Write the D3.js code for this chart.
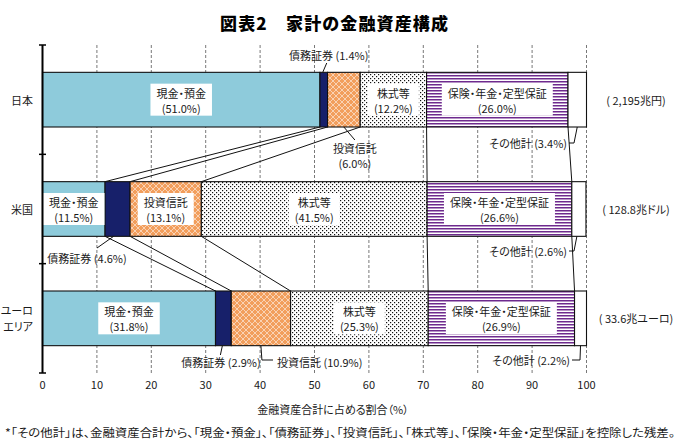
<!DOCTYPE html>
<html><head><meta charset="utf-8">
<script src="https://cdn.jsdelivr.net/npm/d3@7"></script>
<style>
body{margin:0;background:#fff;}
svg text{font-family:"Noto Sans CJK JP","Noto Sans",sans-serif;font-feature-settings:"palt";fill:#1a1a1a;}
</style></head>
<body><svg id="c" width="682" height="446"></svg>
<script>
// ---- data ----
const countries = ["日本", "米国", "ユーロエリア"];
const countryLines = [["日本"], ["米国"], ["ユーロ", "エリア"]];
const categories = ["現金・預金", "債務証券", "投資信託", "株式等", "保険・年金・定型保証", "その他計"];
const japan = [51.0, 1.4, 6.0, 12.2, 26.0, 3.4];
const us = [11.5, 4.6, 13.1, 41.5, 26.6, 2.6];
const euro = [31.8, 2.9, 10.9, 25.3, 26.9, 2.2];
const totals = ["( 2,195兆円)", "( 128.8兆ドル)", "( 33.6兆ユーロ)"];
const xTicks = [0, 10, 20, 30, 40, 50, 60, 70, 80, 90, 100];
const title = "図表2　家計の金融資産構成";
const xTitle = "金融資産合計に占める割合（%）";
const footnote = "*「その他計」は、金融資産合計から、「現金・預金」、「債務証券」、「投資信託」、「株式等」、「保険・年金・定型保証」を控除した残差。";
// which categories are labelled inside each bar
const insideLabels = [[0, 3, 4], [0, 2, 3, 4], [0, 3, 4]];

const series = [japan, us, euro];
const svg = d3.select("#c");
const x = d3.scaleLinear().domain([0, 100]).range([42.5, 586.5]);
const y = d3.scaleBand().domain(countries).range([45, 373]).paddingInner(0.5).paddingOuter(0.25);
const bw = y.bandwidth();

// patterns
const defs = svg.append("defs");
const pTrust = defs.append("pattern").attr("id", "pTrust").attr("patternUnits", "userSpaceOnUse").attr("width", 6).attr("height", 6);
pTrust.append("rect").attr("width", 6).attr("height", 6).attr("fill", "#F29E5C");
pTrust.append("path").attr("d", "M0,0L6,6M6,0L0,6").attr("stroke", "#fff").attr("stroke-width", 0.6).attr("stroke-opacity", 0.9);
const pStock = defs.append("pattern").attr("id", "pStock").attr("patternUnits", "userSpaceOnUse").attr("width", 4).attr("height", 4);
pStock.append("rect").attr("width", 4).attr("height", 4).attr("fill", "#fff");
pStock.append("rect").attr("x", 0).attr("y", 0).attr("width", 1.2).attr("height", 1.2).attr("fill", "#111");
pStock.append("rect").attr("x", 2).attr("y", 2).attr("width", 1.2).attr("height", 1.2).attr("fill", "#111");
const pIns = defs.append("pattern").attr("id", "pIns").attr("patternUnits", "userSpaceOnUse").attr("width", 4).attr("height", 3);
pIns.append("rect").attr("width", 4).attr("height", 3).attr("fill", "#fff");
pIns.append("rect").attr("width", 4).attr("height", 1.5).attr("fill", "#6E2A8E");
const fills = ["#8ECBDB", "#17206A", "url(#pTrust)", "url(#pStock)", "url(#pIns)", "#fff"];

// title
svg.append("text").attr("x", 334).attr("y", 22).attr("text-anchor", "middle").attr("dominant-baseline", "central")
  .attr("font-size", 17).attr("font-weight", 900).style("fill", "#000").attr("textLength", 228).text(title);

// gridlines
svg.append("g").selectAll("line").data(xTicks.slice(1)).join("line")
  .attr("x1", d => x(d)).attr("x2", d => x(d)).attr("y1", 45).attr("y2", 373)
  .attr("stroke", "#555").attr("stroke-width", 0.8).attr("stroke-dasharray", "3,2");

// cumulative
const cums = series.map(s => { let c = 0; return s.map(v => { const st = c; c += v; return [st, c]; }); });

// connectors between bars
for (let i = 0; i < 2; i++) {
  for (let k = 0; k < 5; k++) {
    svg.append("line")
      .attr("x1", x(cums[i][k][1])).attr("y1", y(countries[i]) + bw)
      .attr("x2", x(cums[i + 1][k][1])).attr("y2", y(countries[i + 1]))
      .attr("stroke", "#111").attr("stroke-width", 1);
  }
}

// bars
countries.forEach((c, i) => {
  const g = svg.append("g");
  g.selectAll("rect").data(cums[i]).join("rect")
    .attr("x", d => x(d[0])).attr("width", d => x(d[1]) - x(d[0]))
    .attr("y", y(c)).attr("height", bw)
    .attr("fill", (d, k) => fills[k]).attr("stroke", "#111").attr("stroke-width", 1.1);
});

// inside labels
const fs = 11;
countries.forEach((c, i) => {
  insideLabels[i].forEach(k => {
    const cx = x((cums[i][k][0] + cums[i][k][1]) / 2);
    const cy = y(c) + bw / 2;
    const g = svg.append("g");
    const t1 = g.append("text").attr("x", cx).attr("y", cy - 7).attr("text-anchor", "middle").attr("dominant-baseline", "central").attr("font-size", fs).text(categories[k]);
    const t2 = g.append("text").attr("x", cx).attr("y", cy + 8).attr("text-anchor", "middle").attr("dominant-baseline", "central").attr("font-size", fs).text("(" + series[i][k].toFixed(1) + "%)");
    const w = Math.max(t1.node().getComputedTextLength(), t2.node().getComputedTextLength());
    g.insert("rect", "text").attr("x", cx - w / 2 - 6).attr("y", cy - 16).attr("width", w + 12).attr("height", 32).attr("fill", "#fff");
  });
});

// outside labels with leaders
function lbl(tx, ty, str, anchor) {
  svg.append("text").attr("x", tx).attr("y", ty).attr("text-anchor", anchor || "middle").attr("dominant-baseline", "central").attr("font-size", fs).text(str);
}
function leader(pts) {
  svg.append("path").attr("d", d3.line()(pts)).attr("fill", "none").attr("stroke", "#111").attr("stroke-width", 1);
}
const pct = (i, k) => categories[k] + " (" + series[i][k].toFixed(1) + "%)";
const mid = (i, k) => x((cums[i][k][0] + cums[i][k][1]) / 2);
const barTop = i => y(countries[i]);
const barBot = i => y(countries[i]) + bw;

// Japan
lbl(mid(0, 1) + 5, 55, pct(0, 1));
leader([[mid(0, 1) + 3, 63], [mid(0, 1) - 1, barTop(0)]]);
lbl(mid(0, 2) + 11, 148, categories[2]);
lbl(mid(0, 2) + 11, 163, "(" + japan[2].toFixed(1) + "%)");
leader([[mid(0, 2), barBot(0)], [mid(0, 2) + 11, 140]]);
lbl(567, 143, pct(0, 5), "end");
leader([[569, 143], [574, 143], [mid(0, 5), barBot(0)]]);
// US
lbl(87, 258, pct(1, 1));
leader([[mid(1, 1) - 4, barBot(1)], [97, 248]]);
lbl(567, 251, pct(1, 5), "end");
leader([[569, 251], [574, 251], [mid(1, 5) - 2, barBot(1)]]);
// Euro
lbl(221, 362, pct(2, 1));
leader([[mid(2, 1) - 1, barBot(2)], [mid(2, 1) - 3, 355]]);
lbl(277, 362, pct(2, 2), "start");
leader([[mid(2, 2), barBot(2)], [mid(2, 2) + 1, 360], [273, 360]]);
lbl(570, 360, pct(2, 5), "end");
leader([[572, 360], [580, 360], [mid(2, 5), barBot(2)]]);

// totals
countries.forEach((c, i) => {
  lbl(636, y(c) + bw / 2, totals[i]);
});

// row labels
countries.forEach((c, i) => {
  const ls = countryLines[i];
  ls.forEach((l, j) => {
    svg.append("text").attr("x", 33).attr("y", y(c) + bw / 2 + (j - (ls.length - 1) / 2) * 16)
      .attr("text-anchor", "end").attr("dominant-baseline", "central").attr("font-size", fs).text(l);
  });
});

// y axis
svg.append("line").attr("x1", 42.5).attr("x2", 42.5).attr("y1", 45).attr("y2", 373).attr("stroke", "#000").attr("stroke-width", 2);
svg.append("g").selectAll("line").data([45, 45 + y.step(), 45 + 2 * y.step(), 373]).join("line")
  .attr("x1", 39).attr("x2", 46).attr("y1", d => d).attr("y2", d => d).attr("stroke", "#000").attr("stroke-width", 1.5);

// x tick labels
svg.append("g").selectAll("text").data(xTicks).join("text")
  .attr("x", d => x(d)).attr("y", 384).attr("text-anchor", "middle").attr("dominant-baseline", "central")
  .attr("font-size", fs).text(d => d);

// axis title and footnote
svg.append("text").attr("x", 333).attr("y", 409).attr("text-anchor", "middle").attr("dominant-baseline", "central").attr("font-size", fs).text(xTitle);
svg.append("text").attr("x", 5).attr("y", 432).attr("dominant-baseline", "central").attr("font-size", 11.5).attr("textLength", 670).attr("lengthAdjust", "spacingAndGlyphs").text(footnote);
</script></body></html>
